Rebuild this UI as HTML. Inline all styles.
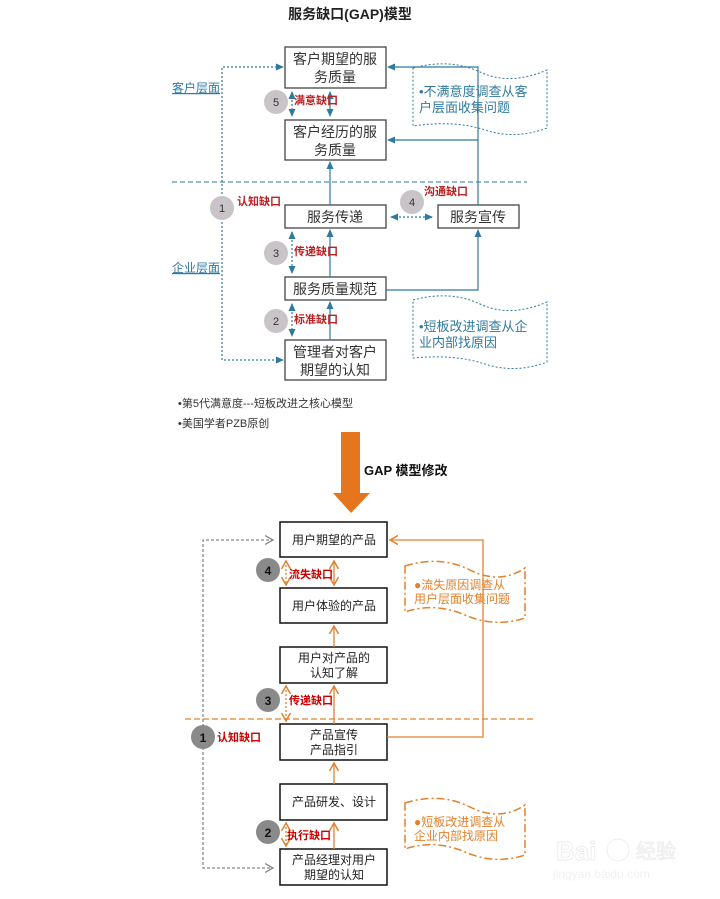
<!DOCTYPE html>
<html><head><meta charset="utf-8"><style>
html,body{margin:0;padding:0;background:#fff;}
svg{display:block;}
text{font-family:"Liberation Sans","Noto Sans CJK SC",sans-serif;}
</style></head><body>
<svg width="720" height="899" viewBox="0 0 720 899" xmlns="http://www.w3.org/2000/svg">
<defs>
<marker id="ab" markerWidth="8" markerHeight="8" refX="7" refY="4" orient="auto-start-reverse" markerUnits="userSpaceOnUse"><path d="M0,0.5 L8,4 L0,7.5 Z" fill="#2e7aa0"/></marker>
<marker id="ao" markerWidth="10" markerHeight="10" refX="8" refY="5" orient="auto-start-reverse" markerUnits="userSpaceOnUse"><path d="M0,0.5 L8,5 L0,9.5" fill="none" stroke="#e0822e" stroke-width="1.5"/></marker>
<marker id="ag" markerWidth="10" markerHeight="10" refX="8" refY="5" orient="auto-start-reverse" markerUnits="userSpaceOnUse"><path d="M0,0.5 L8,5 L0,9.5" fill="none" stroke="#888" stroke-width="1.3"/></marker>
</defs>

<!-- TOP DIAGRAM -->
<text x="350" y="19" text-anchor="middle" font-size="14" font-weight="bold" fill="#222">服务缺口(GAP)模型</text>
<g fill="#fff" stroke="#444" stroke-width="1.3">
<rect x="285" y="47" width="101" height="41"/>
<rect x="285" y="120" width="101" height="40"/>
<rect x="285" y="205" width="101" height="23"/>
<rect x="438" y="205" width="81" height="23"/>
<rect x="285" y="277" width="101" height="23"/>
<rect x="285" y="340" width="101" height="40"/>
</g>
<g font-size="14" fill="#333" text-anchor="middle">
<text x="335" y="64">客户期望的服</text><text x="335" y="82">务质量</text>
<text x="335" y="137">客户经历的服</text><text x="335" y="155">务质量</text>
<text x="335" y="222">服务传递</text>
<text x="478" y="222">服务宣传</text>
<text x="335" y="294">服务质量规范</text>
<text x="335" y="357">管理者对客户</text><text x="335" y="375">期望的认知</text>
</g>
<line x1="172" y1="182" x2="527" y2="182" stroke="#2e7aa0" stroke-dasharray="5,3" stroke-width="1"/>
<g font-size="12" fill="#2e7aa0" text-decoration="underline">
<text x="172" y="92">客户层面</text><text x="172" y="272">企业层面</text>
</g>
<g fill="none" stroke="#2e7aa0" stroke-width="1.2">
<path d="M222 198 V67 H283" stroke-dasharray="2,2" marker-end="url(#ab)"/>
<path d="M222 218 V360 H283" stroke-dasharray="2,2" marker-end="url(#ab)"/>
<path d="M478 205 V67 H388" marker-end="url(#ab)"/>
<path d="M478 140 H388" marker-end="url(#ab)"/>
<path d="M386 290 H478 V230" marker-end="url(#ab)"/>
<path d="M330 205 V162" marker-end="url(#ab)"/>
<path d="M330 277 V230" marker-end="url(#ab)"/>
<path d="M330 340 V302" marker-end="url(#ab)"/>
<path d="M330 92 V116" marker-start="url(#ab)" marker-end="url(#ab)"/>
<path d="M292 92 V116" stroke-dasharray="2,2" marker-start="url(#ab)" marker-end="url(#ab)"/>
<path d="M292 232 V273" stroke-dasharray="2,2" marker-start="url(#ab)" marker-end="url(#ab)"/>
<path d="M292 304 V336" stroke-dasharray="2,2" marker-start="url(#ab)" marker-end="url(#ab)"/>
<path d="M391 217 H432" stroke-dasharray="2,2" marker-start="url(#ab)" marker-end="url(#ab)"/>
</g>
<g fill="#c8c4c8">
<circle cx="276" cy="102" r="12"/><circle cx="222" cy="208" r="12"/><circle cx="412" cy="202" r="12"/>
<circle cx="276" cy="253" r="12"/><circle cx="276" cy="321" r="12"/>
</g>
<g font-size="11" fill="#333" text-anchor="middle">
<text x="276" y="106">5</text><text x="222" y="212">1</text><text x="412" y="206">4</text>
<text x="276" y="257">3</text><text x="276" y="325">2</text>
</g>
<g font-size="11" font-weight="bold" fill="#b22">
<text x="294" y="104">满意缺口</text><text x="237" y="205">认知缺口</text><text x="424" y="195">沟通缺口</text>
<text x="294" y="255">传递缺口</text><text x="294" y="323">标准缺口</text>
</g>
<g fill="none" stroke="#2e7aa0" stroke-width="1" stroke-dasharray="2,2">
<path d="M413 68 Q450 58 480 72 T547 70 V128 Q515 140 485 130 T413 126 Z"/>
<path d="M413 300 Q450 290 480 304 T547 302 V362 Q515 374 485 364 T413 358 Z"/>
</g>
<g font-size="13" fill="#2e7aa0">
<text x="419" y="96">•不满意度调查从客</text><text x="419" y="112">户层面收集问题</text>
<text x="419" y="331">•短板改进调查从企</text><text x="419" y="347">业内部找原因</text>
</g>
<g font-size="11" fill="#333">
<text x="178" y="407">•第5代满意度---短板改进之核心模型</text>
<text x="178" y="427">•美国学者PZB原创</text>
</g>

<!-- BIG ARROW -->
<path d="M341 432 H360 V493 H370 L351 513 L333 493 H341 Z" fill="#e6761e"/>
<text x="364" y="475" font-size="13" font-weight="bold" fill="#111">GAP 模型修改</text>

<!-- BOTTOM DIAGRAM -->
<line x1="185" y1="719" x2="535" y2="719" stroke="#e0822e" stroke-dasharray="6,3" stroke-width="1.3"/>
<g fill="#fff" stroke="#111" stroke-width="1.5">
<rect x="280" y="522" width="107" height="35"/>
<rect x="280" y="588" width="107" height="35"/>
<rect x="280" y="647" width="107" height="36"/>
<rect x="280" y="724" width="107" height="36"/>
<rect x="280" y="784" width="107" height="36"/>
<rect x="280" y="849" width="107" height="36"/>
</g>
<g font-size="12" fill="#222" text-anchor="middle">
<text x="334" y="544">用户期望的产品</text>
<text x="334" y="610">用户体验的产品</text>
<text x="334" y="662">用户对产品的</text><text x="334" y="677">认知了解</text>
<text x="334" y="739">产品宣传</text><text x="334" y="754">产品指引</text>
<text x="334" y="806">产品研发、设计</text>
<text x="334" y="864">产品经理对用户</text><text x="334" y="879">期望的认知</text>
</g>
<g fill="none" stroke-width="1.3">
<path d="M203 727 V540 H273" stroke="#888" stroke-dasharray="3,2" marker-end="url(#ag)"/>
<path d="M203 747 V868 H273" stroke="#888" stroke-dasharray="3,2" marker-end="url(#ag)"/>
<g stroke="#e0822e">
<path d="M387 737 H483 V540 H390" marker-end="url(#ao)"/>
<path d="M334 561 V585" marker-start="url(#ao)" marker-end="url(#ao)"/>
<path d="M334 647 V626" marker-end="url(#ao)"/>
<path d="M334 724 V686" marker-end="url(#ao)"/>
<path d="M334 784 V763" marker-end="url(#ao)"/>
<path d="M334 849 V823" marker-end="url(#ao)"/>
<path d="M286 561 V585" stroke-dasharray="2,2" marker-start="url(#ao)" marker-end="url(#ao)"/>
<path d="M286 686 V721" stroke-dasharray="2,2" marker-start="url(#ao)" marker-end="url(#ao)"/>
<path d="M286 823 V846" stroke-dasharray="2,2" marker-start="url(#ao)" marker-end="url(#ao)"/>
</g>
</g>
<g fill="#8a8a8a">
<circle cx="268" cy="570" r="12"/><circle cx="268" cy="700" r="12"/>
<circle cx="203" cy="737" r="12"/><circle cx="268" cy="832" r="12"/>
</g>
<g font-size="12" font-weight="bold" fill="#111" text-anchor="middle">
<text x="268" y="575">4</text><text x="268" y="705">3</text><text x="203" y="742">1</text><text x="268" y="837">2</text>
</g>
<g font-size="11" font-weight="bold" fill="#c00">
<text x="289" y="578">流失缺口</text><text x="289" y="704">传递缺口</text>
<text x="217" y="741">认知缺口</text><text x="287" y="839">执行缺口</text>
</g>
<g fill="none" stroke="#e0822e" stroke-width="1.5" stroke-dasharray="8,3,2,3">
<path d="M405 566 Q440 555 470 570 T525 568 V618 Q495 628 465 615 T405 612 Z"/>
<path d="M405 803 Q440 792 470 807 T525 805 V855 Q495 865 465 852 T405 849 Z"/>
</g>
<g font-size="12" fill="#e0822e">
<text x="414" y="589">●流失原因调查从</text><text x="414" y="603">用户层面收集问题</text>
<text x="414" y="826">●短板改进调查从</text><text x="414" y="840">企业内部找原因</text>
</g>
<!-- watermark -->
<g fill="none" stroke="#eee" stroke-width="1">
<text x="556" y="860" font-size="26" font-weight="bold" fill="#fff">Bai</text>
<circle cx="618" cy="850" r="11"/>
<text x="636" y="858" font-size="20" fill="#fff">经验</text>
<text x="553" y="878" font-size="12" fill="#f0f0f0" stroke="none">jingyan.baidu.com</text>
</g>
</svg>
</body></html>
